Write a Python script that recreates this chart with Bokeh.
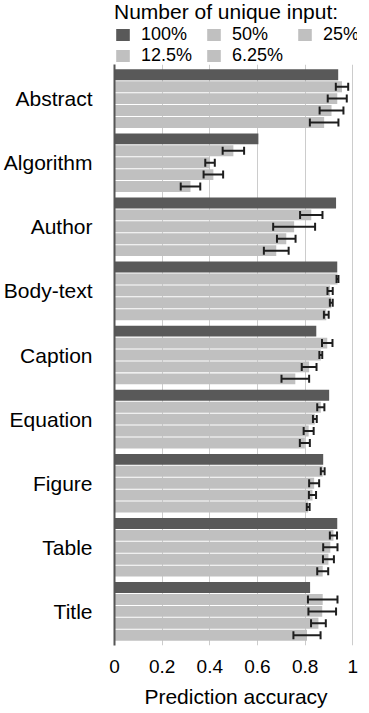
from bokeh.plotting import figure
from bokeh.layouts import column
from bokeh.models import (ColumnDataSource, FactorRange, Range1d, Legend, LegendItem,
                          Whisker, TeeHead, FixedTicker)
from bokeh.transform import dodge
from bokeh.embed import file_html
from bokeh.resources import INLINE

categories = ["Abstract", "Algorithm", "Author", "Body-text", "Caption",
              "Equation", "Figure", "Table", "Title"]
series_labels = ["100%", "50%", "25%", "12.5%", "6.25%"]

acc_100 = [0.939, 0.604, 0.930, 0.935, 0.847, 0.901, 0.876, 0.935, 0.821]
acc_50 = [0.955, 0.499, 0.826, 0.936, 0.893, 0.866, 0.874, 0.919, 0.874]
err_50 = [0.026, 0.045, 0.047, 0.004, 0.022, 0.015, 0.008, 0.015, 0.062]
acc_25 = [0.935, 0.401, 0.754, 0.905, 0.866, 0.841, 0.838, 0.906, 0.872]
err_25 = [0.040, 0.020, 0.088, 0.011, 0.006, 0.008, 0.021, 0.030, 0.058]
acc_12 = [0.911, 0.415, 0.721, 0.910, 0.817, 0.815, 0.831, 0.898, 0.856]
err_12 = [0.050, 0.041, 0.039, 0.006, 0.031, 0.021, 0.015, 0.023, 0.031]
acc_6 = [0.880, 0.319, 0.679, 0.889, 0.759, 0.799, 0.813, 0.874, 0.808]
err_6 = [0.060, 0.041, 0.052, 0.010, 0.058, 0.021, 0.006, 0.023, 0.057]

x_ticks = [0, 0.2, 0.4, 0.6, 0.8, 1.0]
x_tick_labels = ["0", "0.2", "0.4", "0.6", "0.8", "1"]
legend_title = "Number of unique input:"

FONT = "Liberation Sans"
DARK = "#595959"
LIGHT = "#c0c0c0"

series_values = [acc_100, acc_50, acc_25, acc_12, acc_6]
series_errors = [None, err_50, err_25, err_12, err_6]
series_colors = [DARK, LIGHT, LIGHT, LIGHT, LIGHT]
offsets = [0.372, 0.186, 0.0, -0.186, -0.372]

# ---------- main chart ----------
p = figure(
    y_range=FactorRange(factors=categories[::-1], range_padding=0.032,
                        range_padding_units="absolute"),
    x_range=Range1d(0, 1.02),
    width=369, height=649,
    min_border_left=113, min_border_right=12, min_border_top=0, min_border_bottom=68,
    output_backend="svg", toolbar_location=None,
)
p.outline_line_color = None
p.background_fill_color = "white"

for vals, errs, col, off in zip(series_values, series_errors, series_colors, offsets):
    data = dict(cat=categories, val=vals)
    if errs is not None:
        data["lower"] = [v - e for v, e in zip(vals, errs)]
        data["upper"] = [v + e for v, e in zip(vals, errs)]
    src = ColumnDataSource(data)
    p.hbar(y=dodge("cat", off, range=p.y_range), right="val", left=0,
           height=0.17, source=src, fill_color=col, line_color=None)
    if errs is not None:
        w = Whisker(source=src, base=dodge("cat", off, range=p.y_range),
                    lower="lower", upper="upper", dimension="width",
                    line_color="#1e1e1e", line_width=2,
                    lower_head=TeeHead(size=8, line_width=2, line_color="#1e1e1e"),
                    upper_head=TeeHead(size=8, line_width=2, line_color="#1e1e1e"),
                    level="annotation")
        p.add_layout(w)

p.xaxis.ticker = FixedTicker(ticks=x_ticks)
p.xaxis.major_label_overrides = dict(zip(x_ticks, x_tick_labels))
p.xaxis.axis_line_color = None
p.xaxis.major_tick_line_color = None
p.xaxis.minor_tick_line_color = None
p.xaxis.major_label_text_font = FONT
p.xaxis.major_label_text_font_size = "19px"
p.xaxis.major_label_text_color = "black"
p.xaxis.major_label_standoff = 8
p.xaxis.axis_label = "Prediction accuracy"
p.xaxis.axis_label_text_font = FONT
p.xaxis.axis_label_text_font_size = "21px"
p.xaxis.axis_label_text_font_style = "normal"
p.xaxis.axis_label_text_color = "black"
p.xaxis.axis_label_standoff = 9

p.xgrid.ticker = FixedTicker(ticks=x_ticks)
p.xgrid.grid_line_color = "#cccccc"
p.xgrid.grid_line_width = 1
p.ygrid.grid_line_color = None

p.yaxis.axis_line_color = "#555555"
p.yaxis.axis_line_width = 2
p.yaxis.major_tick_line_color = None
p.yaxis.minor_tick_line_color = None
p.yaxis.major_tick_out = 0
p.yaxis.major_tick_in = 0
p.yaxis.major_label_text_font = FONT
p.yaxis.major_label_text_font_size = "21px"
p.yaxis.major_label_text_color = "black"
p.yaxis.major_label_standoff = 22

# ---------- legend strip ----------
top = figure(width=369, height=64, x_axis_type=None, y_axis_type=None,
             x_range=Range1d(0, 1), y_range=Range1d(-1, 1),
             min_border_left=110, min_border_right=0, min_border_top=0,
             min_border_bottom=0, output_backend="svg", toolbar_location=None)
top.outline_line_color = None
top.xgrid.grid_line_color = None
top.ygrid.grid_line_color = None

items = []
for col, lab in zip(series_colors, series_labels):
    # zero-width swatch renderer: only used to draw the legend glyph
    r = top.hbar(y=[0], right=[0], left=[0], height=0.1, fill_color=col, line_color=None)
    items.append(LegendItem(label=lab, renderers=[r]))

legend = Legend(
    items=items, location="top_left", orientation="horizontal", ncols=3,
    title=legend_title, title_text_font=FONT,
    title_text_font_size="21px", title_text_font_style="normal",
    title_text_color="black", title_standoff=0,
    label_text_font=FONT, label_text_font_size="18px", label_text_color="black",
    label_standoff=10, glyph_width=17, glyph_height=15, label_height=15,
    label_width=64, spacing=0, padding=0, margin=0,
    border_line_color=None, background_fill_alpha=0,
)
top.add_layout(legend)

layout = column(top, p, spacing=0)
open("out.html", "w").write(file_html(layout, INLINE))
